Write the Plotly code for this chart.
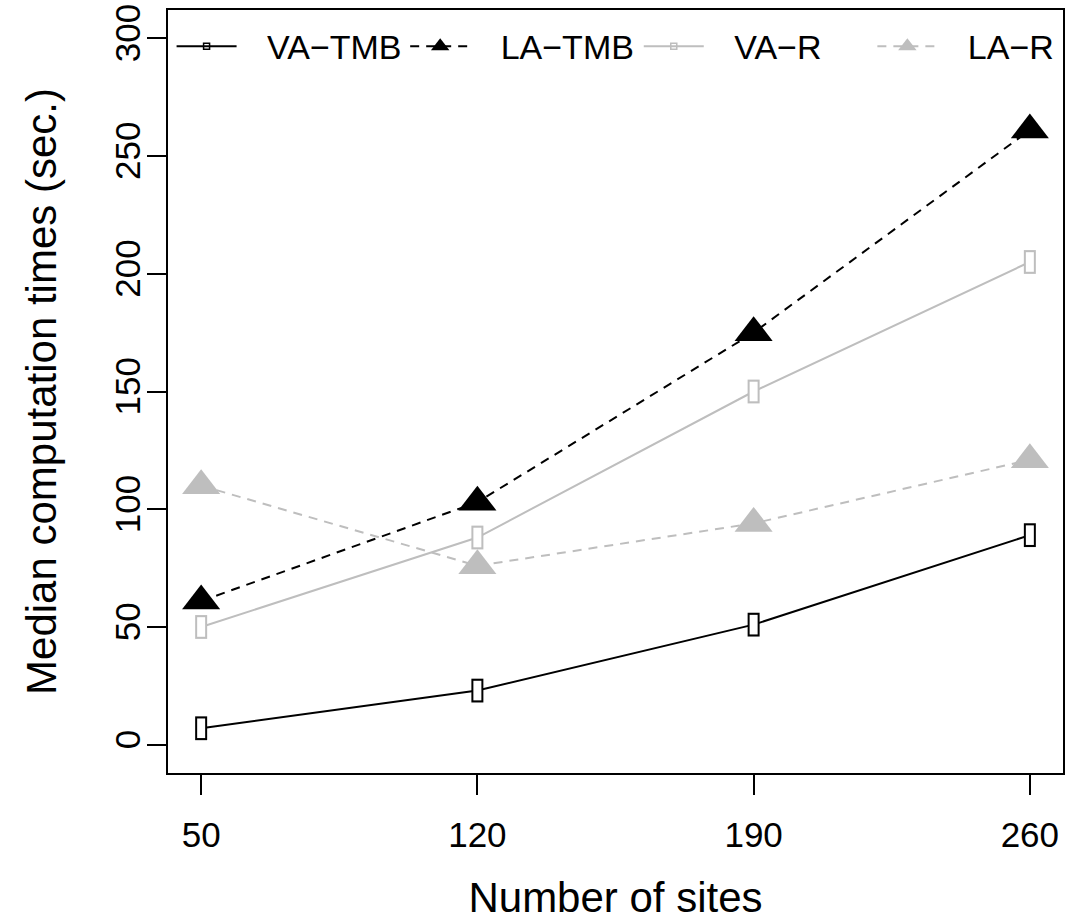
import plotly.graph_objects as go

sites = [50, 120, 190, 260]
va_tmb = [7, 23, 51, 89]
la_tmb = [61, 103, 175, 261]
va_r = [50, 88, 150, 205]
la_r = [110, 76, 94, 121]

series_names = ["VA−TMB", "LA−TMB", "VA−R", "LA−R"]
y_ticks = [0, 50, 100, 150, 200, 250, 300]
x_ticks = sites

BLACK = "#000000"
GRAY = "#BEBEBE"
FONT = "Liberation Sans, Arial, sans-serif"
GAP = "\u2002\u2005"  # spacing between legend symbol and label

fig = go.Figure()

def rect_traces(y, color):
    # open tall rectangle markers: thick vertical bar with white interior
    fig.add_trace(go.Scatter(x=sites, y=y, mode="markers", showlegend=False,
                             hoverinfo="skip",
                             marker=dict(symbol="line-ns", size=17,
                                         line=dict(color=color, width=12))))
    fig.add_trace(go.Scatter(x=sites, y=y, mode="markers", showlegend=False,
                             hoverinfo="skip",
                             marker=dict(symbol="line-ns", size=14,
                                         line=dict(color="white", width=8))))

# VA-TMB
fig.add_trace(go.Scatter(x=sites, y=va_tmb, mode="lines+markers", name=GAP + series_names[0],
                         legend="legend",
                         line=dict(color=BLACK, width=2),
                         marker=dict(symbol="square-open", size=6,
                                     color=BLACK, line=dict(color=BLACK, width=1.5))))
rect_traces(va_tmb, BLACK)

# VA-R
fig.add_trace(go.Scatter(x=sites, y=va_r, mode="lines+markers", name=GAP + series_names[2],
                         legend="legend3",
                         line=dict(color=GRAY, width=2),
                         marker=dict(symbol="square-open", size=6,
                                     color=GRAY, line=dict(color=GRAY, width=1.5))))
rect_traces(va_r, GRAY)

# LA-R
fig.add_trace(go.Scatter(x=sites, y=la_r, mode="lines+markers", name=GAP + series_names[3],
                         legend="legend4",
                         line=dict(color=GRAY, width=2, dash="9px,7px"),
                         marker=dict(symbol="triangle-up", size=33, color=GRAY,
                                     line=dict(width=0))))

# LA-TMB
fig.add_trace(go.Scatter(x=sites, y=la_tmb, mode="lines+markers", name=GAP + series_names[1],
                         legend="legend2",
                         line=dict(color=BLACK, width=2, dash="9px,7px"),
                         marker=dict(symbol="triangle-up", size=33, color=BLACK,
                                     line=dict(width=0))))

def legend_at(x):
    return dict(orientation="h", x=x, xanchor="left", y=0.952, yanchor="middle",
                bgcolor="rgba(0,0,0,0)", font=dict(size=34), itemwidth=60,
                itemclick=False, itemdoubleclick=False)

fig.update_layout(
    width=1077, height=921,
    margin=dict(l=168, r=14, t=10, b=148, autoexpand=False),
    paper_bgcolor="white", plot_bgcolor="white",
    font=dict(family=FONT, color="black", size=34),
    showlegend=True,
    legend=legend_at(0.004),
    legend2=legend_at(0.265),
    legend3=legend_at(0.526),
    legend4=legend_at(0.787),
    xaxis=dict(range=[41.6, 268.4], tickvals=x_ticks, ticktext=[str(v) for v in x_ticks],
               showgrid=False, zeroline=False, showline=True, linecolor="black",
               linewidth=2, mirror=True, ticks="outside", ticklen=20, tickwidth=1.5,
               tickcolor="black", tickfont=dict(size=35), ticklabelstandoff=10,
               automargin=False,
               title=dict(text="Number of sites", font=dict(size=42), standoff=34)),
    yaxis=dict(range=[-12, 312], tickvals=y_ticks, ticktext=[str(v) for v in y_ticks],
               showgrid=False, zeroline=False, showline=True, linecolor="black",
               linewidth=2, mirror=True, ticks="outside", ticklen=19, tickwidth=1.5,
               tickcolor="black", tickfont=dict(size=35), tickangle=-90,
               ticklabelstandoff=-7, automargin=False,
               title=dict(text="Median computation times (sec.)", font=dict(size=42),
                          standoff=38)),
)

fig.write_html("out.html", config={"displayModeBar": False},
               post_script="document.body.style.margin='0';document.body.style.overflow='hidden';")
